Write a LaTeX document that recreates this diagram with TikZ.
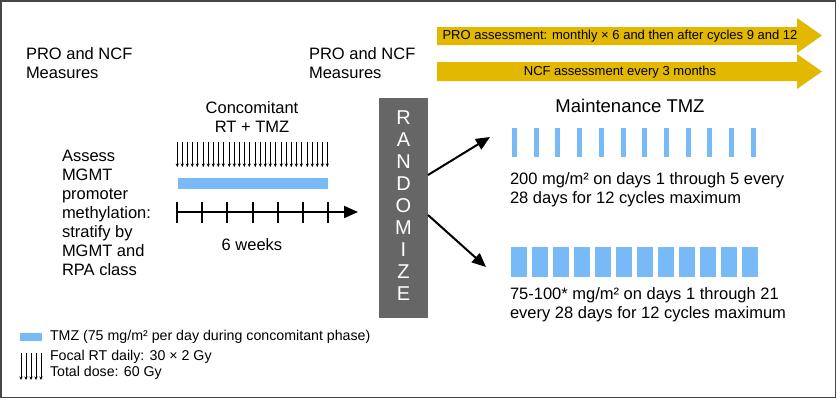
\documentclass[tikz,border=0pt]{standalone}
\usepackage{fontspec}
\setmainfont{Liberation Sans}
\usetikzlibrary{arrows.meta, positioning, calc}
\definecolor{tmzblue}{RGB}{120,186,247}
\definecolor{assessgold}{RGB}{226,184,0}
\definecolor{randgray}{RGB}{102,102,102}
\definecolor{framegray}{RGB}{70,70,70}

\begin{document}
\begin{tikzpicture}[x=1pt, y=-1pt,
    every node/.style={inner sep=0pt, outer sep=0pt},
    txt/.style={font=\fontsize{16.5}{19}\selectfont, align=left},
    legendtxt/.style={font=\fontsize{14.2}{16.5}\selectfont, align=left},
    banner/.style={font=\fontsize{13}{15}\selectfont},
    letter/.style={font=\fontsize{20}{20}\selectfont, text=white},
    rtarrow/.style={line width=0.8pt, -{Stealth[length=3.5pt, width=3.2pt]}},
    bigarrow/.style={line width=2pt, -{Triangle[length=14pt, width=12pt]}},
    tmzbar/.style={fill=tmzblue}]

    % Page and frame
    \useasboundingbox (0,0) rectangle (837,400);
    \draw[framegray, line width=1.5pt] (1,1) rectangle (835.5,397.5);

    % Assessment banners
    \fill[assessgold] (437,27) -- (797,27) -- (797,18) -- (822,35.5) -- (797,53) -- (797,45) -- (437,45) -- cycle;
    \node[banner] (pro) at (620,36) {PRO assessment: monthly × 6 and then after cycles 9 and 12};
    \fill[assessgold] (437,62) -- (797,62) -- (797,54) -- (822,71.5) -- (797,89) -- (797,81) -- (437,81) -- cycle;
    \node[banner] (ncf) at (620,72) {NCF assessment every 3 months};

    % Measures
    \node[txt, anchor=west] (meas1) at (26,63) {PRO and NCF\\Measures};
    \node[txt, anchor=west] (meas2) at (309,63) {PRO and NCF\\Measures};

    % Stratification
    \node[txt, anchor=west] (strat) at (62,213) {Assess\\MGMT\\promoter\\methylation:\\stratify by\\MGMT and\\RPA class};

    % Concomitant phase
    \node[txt, align=center] (conc) at (252,117) {Concomitant\\RT + TMZ};
    \foreach \g in {0,...,5}
        \foreach \a in {0,...,4}
            \draw[rtarrow] (177.3+26*\g+5*\a,142) -- ++(0,25);
    \fill[tmzbar] (178,178) rectangle (328,189);
    \draw[bigarrow] (177,212) -- (358,212);
    \foreach \k in {0,...,6}
        \draw[line width=2pt] (177+25.2*\k,202) -- ++(0,21);
    \node[txt] (weeks) at (252,245) {6 weeks};

    % Randomization
    \node[fill=randgray, minimum width=49pt, minimum height=220pt] (rand) at (403.5,208) {};
    \foreach \l [count=\i from 0] in {R,A,N,D,O,M,I,Z,E}
        \node[letter] (r\i) at (403.5,118+22*\i) {\l};
    \coordinate (uptip) at (490,137);
    \coordinate (lowtip) at (486,267);
    \draw[bigarrow] ($(rand.east)+(0,-33)$) -- (uptip);
    \draw[bigarrow] ($(rand.east)+(0,7)$) -- (lowtip);

    % Maintenance arms
    \node[font=\fontsize{18.5}{20}\selectfont] (maint) at (630,106) {Maintenance TMZ};
    \foreach \k in {0,...,11}
        \fill[tmzbar] (512+21.7*\k,128) rectangle ++(5,29);
    \node[txt, anchor=west] (arm1) at (510,190) {200 mg/m² on days 1 through 5 every\\28 days for 12 cycles maximum};
    \foreach \k in {0,...,11}
        \fill[tmzbar] (511+21*\k,247) rectangle ++(16,30);
    \node[txt, anchor=west] (arm2) at (510,305) {75-100* mg/m² on days 1 through 21\\every 28 days for 12 cycles maximum};

    % Legend
    \fill[tmzbar] (20,333) rectangle (42,341);
    \node[legendtxt, anchor=west] (legtmz) at (50,337) {TMZ (75 mg/m² per day during concomitant phase)};
    \foreach \a in {0,...,4}
        \draw[rtarrow] (21+5*\a,353) -- ++(0,27);
    \node[legendtxt, anchor=west] (legrt) at (50,365) {Focal RT daily: 30 × 2 Gy\\Total dose: 60 Gy};
\end{tikzpicture}
\end{document}
